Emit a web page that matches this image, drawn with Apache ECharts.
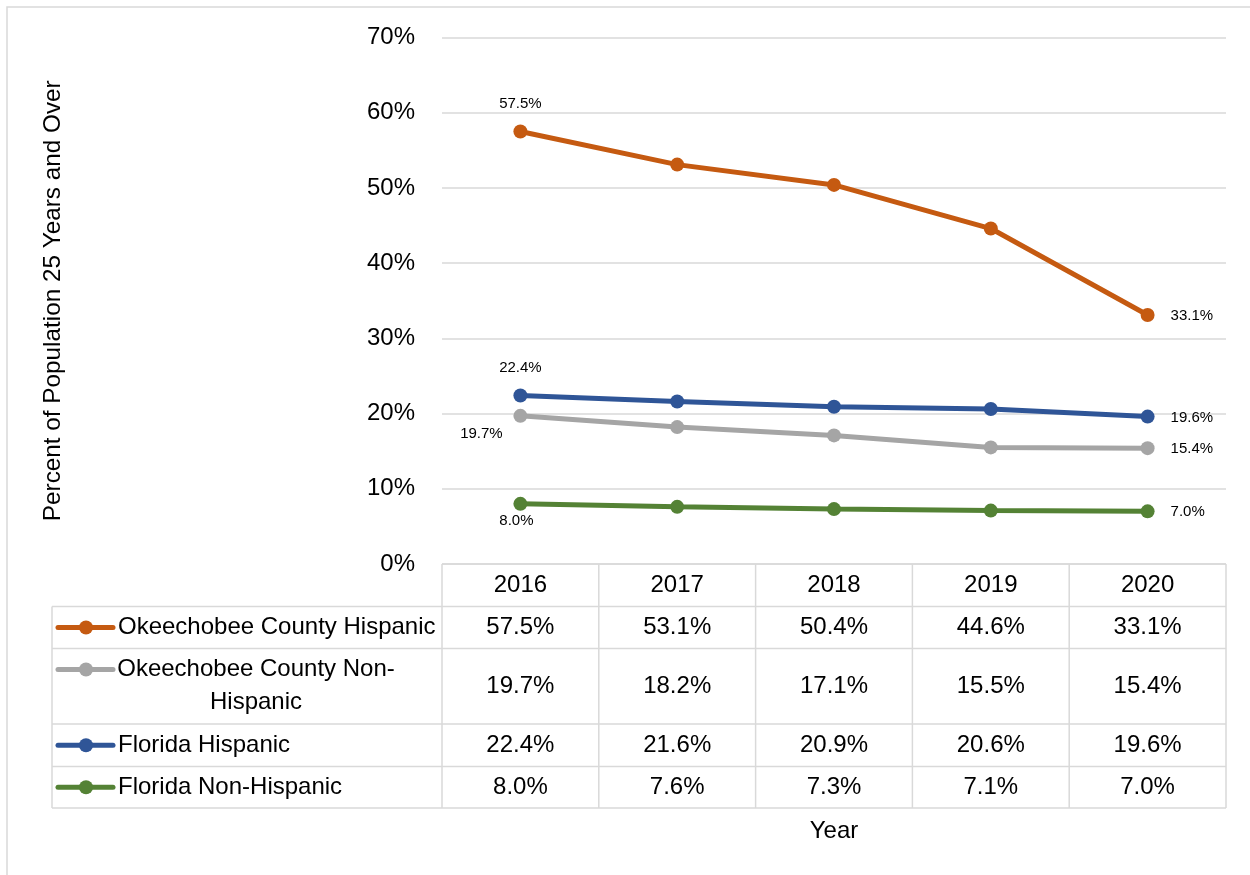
<!DOCTYPE html>
<html><head><meta charset="utf-8">
<script src="https://cdn.jsdelivr.net/npm/echarts@6/dist/echarts.min.js"></script>
<style>html,body{margin:0;padding:0;background:#fff}#c{width:1250px;height:875px}</style>
</head><body><div id="c"></div>
<script>
// ---- data ----
const years = ['2016', '2017', '2018', '2019', '2020'];
const seriesNames = ['Okeechobee County Hispanic', 'Okeechobee County Non-Hispanic', 'Florida Hispanic', 'Florida Non-Hispanic'];
const okeechobeeHispanic = [57.5, 53.1, 50.4, 44.6, 33.1];
const okeechobeeNonHispanic = [19.7, 18.2, 17.1, 15.5, 15.4];
const floridaHispanic = [22.4, 21.6, 20.9, 20.6, 19.6];
const floridaNonHispanic = [8.0, 7.6, 7.3, 7.1, 7.0];
const yMin = 0, yMax = 70, yStep = 10;
const yAxisTitle = 'Percent of Population 25 Years and Over';
const xAxisTitle = 'Year';

// ---- styling ----
const seriesValues = [okeechobeeHispanic, okeechobeeNonHispanic, floridaHispanic, floridaNonHispanic];
const colors = ['#C55A11', '#A5A5A5', '#2F5597', '#548235'];
const gridColor = '#D9D9D9';

function fontAvailable(name) {
  const c = document.createElement('canvas').getContext('2d');
  const s = 'Okeechobee County Hispanic 0123456789%';
  c.font = '40px monospace'; const a = c.measureText(s).width;
  c.font = '40px "' + name + '", monospace'; const b = c.measureText(s).width;
  return Math.abs(a - b) > 0.5;
}
let NARROW = null;
if (fontAvailable('Liberation Sans Narrow')) NARROW = '"Liberation Sans Narrow"';
else if (fontAvailable('Arial Narrow')) NARROW = '"Arial Narrow"';
const HFONT = NARROW || '"Liberation Sans", Arial, sans-serif';
const BIG = NARROW ? 28 : 24;
const SMALL = NARROW ? 18 : 15;

const fmt = v => v.toFixed(1) + '%';
const rowHeights = [42.5, 42, 75.5, 42.5, 41.5]; // header, then one per series
const legendLeft = 52;

const firstLabel = [
  { position: 'inside', offset: [0, -28] },
  { position: 'inside', offset: [-39, 18] },
  { position: 'inside', offset: [0, -28] },
  { position: 'inside', offset: [-4, 17] }
];

const rich = { h: { fontFamily: HFONT, fontSize: BIG, color: '#000', lineHeight: rowHeights[0] } };
seriesNames.forEach((n, i) => {
  rich['r' + i] = { fontFamily: HFONT, fontSize: BIG, color: '#000', lineHeight: rowHeights[i + 1] };
});

const chart = echarts.init(document.getElementById('c'), null, { renderer: 'canvas' });

const series = seriesNames.map((name, si) => ({
  name: name,
  type: 'line',
  symbol: 'circle',
  symbolSize: 14,
  color: colors[si],
  lineStyle: { width: 5, color: colors[si] },
  itemStyle: { color: colors[si] },
  emphasis: { disabled: true },
  z: 2 + si,
  data: seriesValues[si].map((v, i) => {
    const d = { value: v };
    if (i === 0) {
      d.label = Object.assign({ show: true, formatter: fmt(v) }, firstLabel[si]);
    } else if (i === seriesValues[si].length - 1) {
      d.label = { show: true, position: 'right', distance: 16, offset: [0, 1], formatter: fmt(v) };
    }
    return d;
  }),
  label: { show: false, fontFamily: HFONT, fontSize: SMALL, color: '#000' }
}));

chart.setOption({
  animation: false,
  backgroundColor: '#fff',
  grid: { left: 442, right: 24, top: 37.5, bottom: 311, containLabel: false, outerBoundsMode: 'none' },
  xAxis: {
    type: 'category',
    data: years,
    boundaryGap: true,
    axisLine: { show: false },
    axisTick: { show: false },
    splitLine: { show: false },
    axisLabel: {
      interval: 0,
      margin: 0,
      hideOverlap: false,
      formatter: (val, idx) => {
        let s = '{h|' + val + '}';
        seriesValues.forEach((arr, si) => { s += '\n{r' + si + '|' + fmt(arr[idx]) + '}'; });
        return s;
      },
      rich: rich
    },
    name: xAxisTitle,
    nameLocation: 'middle',
    nameGap: 255,
    nameTextStyle: { fontFamily: HFONT, fontSize: BIG, color: '#000' }
  },
  yAxis: {
    type: 'value',
    min: yMin, max: yMax, interval: yStep,
    axisLine: { show: false },
    axisTick: { show: false },
    splitLine: { show: true, lineStyle: { color: gridColor, width: 1.5 } },
    axisLabel: { formatter: '{value}%', margin: 27, padding: [4, 0, 0, 0], fontFamily: HFONT, fontSize: BIG, color: '#000' },
    name: yAxisTitle,
    nameLocation: 'middle',
    nameGap: 377,
    nameRotate: 90,
    nameTextStyle: { fontFamily: '"Liberation Sans", Arial, sans-serif', fontSize: 24.3, color: '#000' }
  },
  series: series
});

// ---- data table grid lines + legend keys, positioned from the axes ----
const centers = years.map(y => chart.convertToPixel({ xAxisIndex: 0 }, y));
const band = centers.length > 1 ? centers[1] - centers[0] : 150;
const xb = [centers[0] - band / 2].concat(centers.map(c => c + band / 2));
const yTop = chart.convertToPixel({ yAxisIndex: 0 }, yMin);
const yb = [yTop];
rowHeights.forEach(h => yb.push(yb[yb.length - 1] + h));
const xRight = xb[xb.length - 1];
const lineStyle = { stroke: gridColor, lineWidth: 1.5 };
const g = [];
g.push({ type: 'rect', shape: { x: 7, y: 7, width: 1270, height: 900 }, style: { fill: null, stroke: gridColor, lineWidth: 1.5 }, silent: true, z: 0 });
g.push({ type: 'line', shape: { x1: xb[0], y1: yb[0], x2: xRight, y2: yb[0] }, style: lineStyle, silent: true });
for (let k = 1; k < yb.length; k++) {
  g.push({ type: 'line', shape: { x1: legendLeft, y1: yb[k], x2: xRight, y2: yb[k] }, style: lineStyle, silent: true });
}
g.push({ type: 'line', shape: { x1: legendLeft, y1: yb[1], x2: legendLeft, y2: yb[yb.length - 1] }, style: lineStyle, silent: true });
xb.forEach(x => g.push({ type: 'line', shape: { x1: x, y1: yb[0], x2: x, y2: yb[yb.length - 1] }, style: lineStyle, silent: true }));

// legend keys in the table's first column
const keyX1 = 58, keyX2 = 113, keyCx = 86, textX = 118, wrapLineH = 33;
seriesNames.forEach((name, si) => {
  const rowTop = yb[si + 1], rowH = rowHeights[si + 1];
  const wrapped = name.length > 27;
  const my = wrapped ? rowTop + 21 : rowTop + rowH / 2;
  g.push({ type: 'line', shape: { x1: keyX1, y1: my, x2: keyX2, y2: my }, style: { stroke: colors[si], lineWidth: 5, lineCap: 'round' }, silent: true, z: 5 });
  g.push({ type: 'circle', shape: { cx: keyCx, cy: my, r: 7 }, style: { fill: colors[si] }, silent: true, z: 6 });
  if (wrapped) {
    const cut = name.lastIndexOf('-') + 1;
    const txt = name.slice(0, cut) + '\n' + name.slice(cut);
    g.push({ type: 'text', x: 256, y: my - wrapLineH / 2, style: { text: txt, fontFamily: HFONT, fontSize: BIG, lineHeight: wrapLineH, fill: '#000', align: 'center', verticalAlign: 'top' }, silent: true, z: 6 });
  } else {
    g.push({ type: 'text', x: textX, y: my, style: { text: name, fontFamily: HFONT, fontSize: BIG, fill: '#000', align: 'left', verticalAlign: 'middle' }, silent: true, z: 6 });
  }
});
chart.setOption({ graphic: g });
</script>
</body></html>
